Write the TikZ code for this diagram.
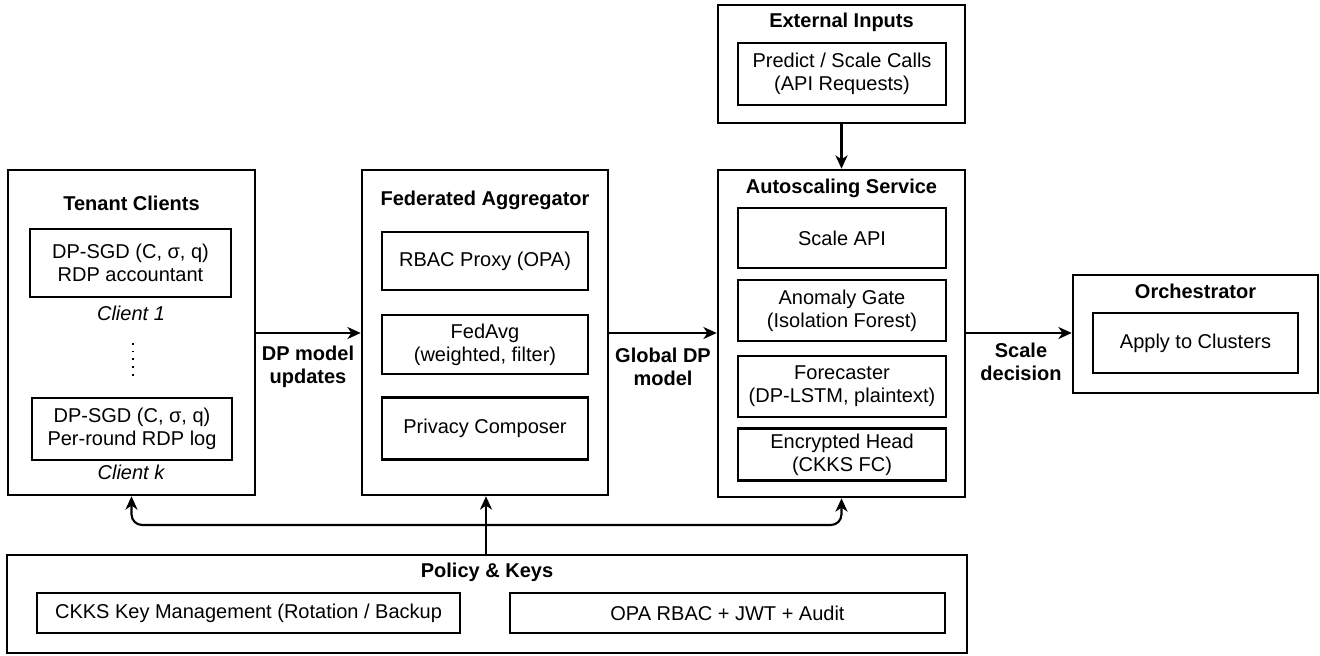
\documentclass[tikz,border=0pt]{standalone}
\usepackage{fontspec}
\setmainfont{Liberation Sans}
\usetikzlibrary{positioning,arrows.meta}

\begin{document}
\begin{tikzpicture}[
    x=0.75pt, y=-0.75pt,
    font=\fontsize{15}{17.5}\selectfont,
    node distance=9pt and 2cm,
    outer_style/.style={draw=black, line width=1.9pt, fill=white, inner sep=0pt},
    inner_style/.style={draw=black, line width=1.9pt, fill=white, align=center, inner sep=2pt},
    title_style/.style={font=\fontsize{15}{17.5}\selectfont\bfseries},
    label_style/.style={font=\fontsize{15}{17.5}\selectfont\bfseries, align=center},
    edge_style/.style={line width=1.6pt, -{Stealth[length=10pt,width=9pt,inset=3pt]}}
]
\useasboundingbox (0,0) rectangle (1320,656);

% Tenant clients
\node[outer_style, minimum width=185.25pt, minimum height=243.75pt] (tenant) at (131.5,332.5) {};
\node[title_style] (tenantT) at (131.5,203) {Tenant Clients};
\node[inner_style, minimum width=150.75pt, minimum height=51pt] (tc1) at (130.5,263) {DP-SGD (C, σ, q)\\RDP accountant};
\node[font=\fontsize{15}{17.5}\selectfont\itshape] (tc1L) at (131,313) {Client 1};
\coordinate (dotsA) at (133,343);
\coordinate (dotsB) at (133,378);
\draw[line width=1.3pt, dash pattern=on 1.3pt off 4.5pt] (dotsA) -- (dotsB);
\node[inner_style, minimum width=150pt, minimum height=46.5pt] (tck) at (132,429) {DP-SGD (C, σ, q)\\Per-round RDP log};
\node[font=\fontsize{15}{17.5}\selectfont\itshape] (tckL) at (131,472) {Client k};

% Federated aggregator
\node[outer_style, minimum width=184.5pt, minimum height=243.75pt] (fed) at (485,332.5) {};
\node[title_style] (fedT) at (485,200) {Federated Aggregator};
\node[inner_style, minimum width=154.5pt, minimum height=43.5pt] (rbac) at (485,261) {RBAC Proxy (OPA)};
\node[inner_style, minimum width=154.5pt, minimum height=44.25pt, below=17pt of rbac] (fedavg) {FedAvg\\(weighted, filter)};
\node[inner_style, minimum width=154.5pt, minimum height=46.5pt, below=15.5pt of fedavg] (privacy) {Privacy Composer};

% External inputs
\node[outer_style, minimum width=185.25pt, minimum height=88.5pt] (ext) at (841.5,64) {};
\node[title_style] (extT) at (841.5,22) {External Inputs};
\node[inner_style, minimum width=156pt, minimum height=46.5pt] (calls) at (842,74) {Predict / Scale Calls\\(API Requests)};

% Autoscaling service
\node[outer_style, minimum width=185.25pt, minimum height=245.25pt] (auto) at (841.5,333.5) {};
\node[title_style] (autoT) at (841.5,188) {Autoscaling Service};
\node[inner_style, minimum width=156pt, minimum height=45pt] (scaleapi) at (842,238) {Scale API};
\node[inner_style, minimum width=156pt, minimum height=45.75pt, below of=scaleapi, node distance=54.375pt] (anomaly) {Anomaly Gate\\(Isolation Forest)};
\node[inner_style, minimum width=156pt, minimum height=45.75pt, below of=anomaly, node distance=57pt] (forecast) {Forecaster\\(DP-LSTM, plaintext)};
\node[inner_style, minimum width=156pt, minimum height=39pt, below of=forecast, node distance=51pt] (enchead) {Encrypted Head\\(CKKS FC)};

% Orchestrator
\node[outer_style, minimum width=183.75pt, minimum height=88.5pt] (orch) at (1195.5,334) {};
\node[title_style] (orchT) at (1195.5,291) {Orchestrator};
\node[inner_style, minimum width=153.75pt, minimum height=45pt] (apply) at (1195.5,343) {Apply to Clusters};

% Policy and keys
\node[outer_style, minimum width=720pt, minimum height=73.5pt] (policy) at (487,604) {};
\node[title_style] (policyT) at (487,572) {Policy \& Keys};
\node[inner_style, minimum width=317.25pt, minimum height=30pt] (ckks) at (248.5,613) {CKKS Key Management (Rotation / Backup};
\node[inner_style, minimum width=326.25pt, minimum height=30pt] (opa) at (727.5,613) {OPA RBAC + JWT + Audit};

% Main flow
\draw[edge_style] (tenant.east |- 0,333) -- (fed.west |- 0,333);
\node[label_style] (updL) at (308,367) {DP model\\updates};
\draw[edge_style] (fed.east |- 0,333) -- (auto.west |- 0,333);
\node[label_style] (globL) at (663,367) {Global DP\\model};
\draw[edge_style] (auto.east |- 0,333) -- (orch.west |- 0,333);
\node[label_style] (scaleL) at (1021,362) {Scale\\decision};
\draw[edge_style] (ext.south) -- (auto.north);

% Policy distribution
\coordinate (bus) at (486,525);
\draw[edge_style] (policy.north -| bus) -- (fed.south -| bus);
\draw[edge_style, rounded corners=8pt] (bus) -| (tenant.south);
\draw[edge_style, rounded corners=8pt] (bus) -| (auto.south);

\end{tikzpicture}
\end{document}
